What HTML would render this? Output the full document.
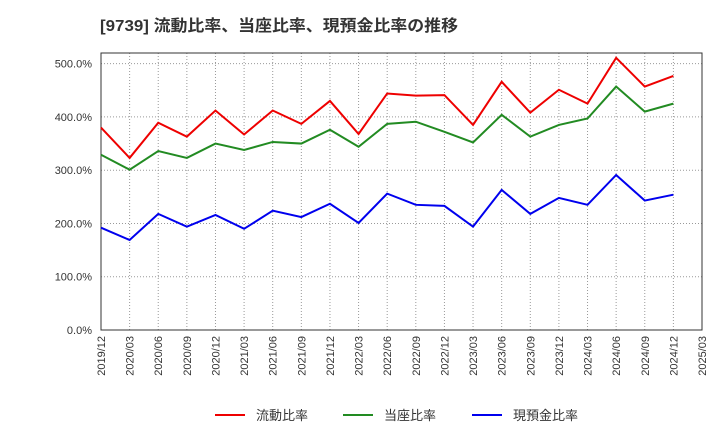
<!DOCTYPE html>
<html><head><meta charset="utf-8"><style>
body{margin:0;background:#fff;}
svg text{font-family:"Liberation Sans","Noto Sans CJK JP",sans-serif;}
</style></head><body>
<svg id="chart" width="720" height="440" xmlns="http://www.w3.org/2000/svg">
<text x="100" y="31" font-size="16" font-weight="bold" fill="#333" textLength="358" lengthAdjust="spacingAndGlyphs">[9739]  流動比率、当座比率、現預金比率の推移</text>
<g id="grid"></g><g id="axes"></g><g id="series"></g>
<g>
<line x1="215" y1="415" x2="245" y2="415" stroke="#e00" stroke-width="2"/>
<text x="256" y="420" font-size="13" fill="#333">流動比率</text>
<line x1="343" y1="415" x2="373" y2="415" stroke="#228b22" stroke-width="2"/>
<text x="384" y="420" font-size="13" fill="#333">当座比率</text>
<line x1="472" y1="415" x2="502" y2="415" stroke="#00e" stroke-width="2"/>
<text x="513" y="420" font-size="13" fill="#333">現預金比率</text>
</g>
</svg>
<script>
const xLabels=["2019/12","2020/03","2020/06","2020/09","2020/12","2021/03","2021/06","2021/09","2021/12","2022/03","2022/06","2022/09","2022/12","2023/03","2023/06","2023/09","2023/12","2024/03","2024/06","2024/09","2024/12","2025/03"];
const yTicks=[0,100,200,300,400,500];
const currentRatio=[380,323,389,363,412,367,412,387,430,368,444,440,441,385,466,408,451,425,511,457,477];
const quickRatio=[329,301,336,323,350,338,353,350,376,344,387,391,372,352,404,363,385,397,457,410,425];
const cashRatio=[192,169,218,194,216,190,224,212,237,201,256,235,233,194,263,218,248,235,291,243,254];
const L=101,R=702,T=53,B=330,yMax=520;
const xs=i=>L+i*(R-L)/(xLabels.length-1);
const ys=v=>B-v/yMax*(B-T);
const NS="http://www.w3.org/2000/svg";
function mk(tag,attrs,parent){const e=document.createElementNS(NS,tag);for(const k in attrs)e.setAttribute(k,attrs[k]);parent.appendChild(e);return e;}
const grid=document.getElementById('grid'),axes=document.getElementById('axes'),ser=document.getElementById('series');
xLabels.forEach((lab,i)=>{
 const x=xs(i);
 const g=mk('line',{x1:x,y1:T,x2:x,y2:B,stroke:'#999','stroke-dasharray':'1,2','stroke-width':1},grid);
 
 
 const t=mk('text',{x:0,y:0,'font-size':11,fill:'#333','text-anchor':'end',transform:`translate(${x+4},${B+6}) rotate(-90)`},axes);
 t.textContent=lab;
 
 
});
yTicks.forEach(v=>{
 const y=ys(v);
 const g=mk('line',{x1:L,y1:y,x2:R,y2:y,stroke:'#999','stroke-dasharray':'1,2','stroke-width':1},grid);
 
 
 const t=mk('text',{x:92,y:y+4,'font-size':11,fill:'#333','text-anchor':'end'},axes);
 t.textContent=v.toFixed(1)+'%';
 
 
});
const frame=mk('rect',{x:L,y:T,width:R-L,height:B-T,fill:'none',stroke:'#333','stroke-width':1},axes);


[[currentRatio,'#e00','current-ratio-line'],[quickRatio,'#228b22','quick-ratio-line'],[cashRatio,'#00e','cash-ratio-line']].forEach(([d,c,n])=>{
 const p=mk('polyline',{points:d.map((v,i)=>xs(i)+','+ys(v)).join(' '),fill:'none',stroke:c,'stroke-width':2},ser);
 
 
});
</script>
</body></html>
